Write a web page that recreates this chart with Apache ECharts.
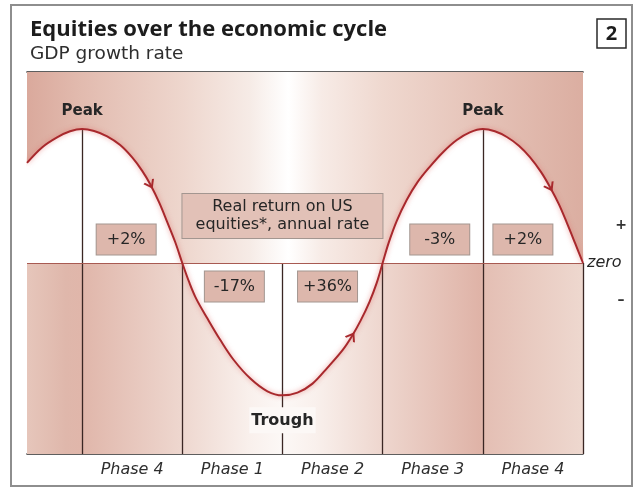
<!DOCTYPE html>
<html>
<head>
<meta charset="utf-8">
<title>Equities over the economic cycle</title>
<script src="https://cdn.jsdelivr.net/npm/echarts@6/dist/echarts.min.js"></script>
<style>
    html, body { margin: 0; padding: 0; background: #fff; }
    #chart { width: 638px; height: 497px; }
</style>
</head>
<body>
<div id="chart"></div>
<script>
// GDP growth curve (x in phases, 0 = first peak; y in arbitrary units)
var gdpX = [-0.55, -0.4, -0.25, -0.12, 0, 0.12, 0.25, 0.38, 0.5, 0.6, 0.68, 0.77, 0.85, 0.93, 1.0,
            1.07, 1.14, 1.25, 1.38, 1.51, 1.68, 1.85, 2.0, 2.15, 2.3, 2.45, 2.6, 2.69, 2.78, 2.87, 2.94, 3.0,
            3.06, 3.14, 3.24, 3.35, 3.47, 3.6, 3.74, 3.87, 4.0, 4.12, 4.24, 4.36, 4.47, 4.58, 4.67, 4.76, 4.84, 4.92, 5.0];
var gdpY = [2.99, 3.45, 3.75, 3.93, 4.0, 3.94, 3.78, 3.52, 3.15, 2.75, 2.35, 1.8, 1.22, 0.62, 0,
            -0.58, -1.07, -1.65, -2.3, -2.88, -3.45, -3.83, -3.95, -3.87, -3.6, -3.12, -2.6, -2.2, -1.72, -1.15, -0.6, 0,
            0.6, 1.25, 1.88, 2.42, 2.87, 3.3, 3.67, 3.9, 4.0, 3.93, 3.76, 3.5, 3.16, 2.72, 2.27, 1.75, 1.19, 0.6, 0];

// Phase boundaries and names along the bottom
var phaseBounds = [0, 1, 2, 3, 4, 5];
var phaseNames = ['Phase 4', 'Phase 1', 'Phase 2', 'Phase 3', 'Phase 4'];

// Real return boxes
var returnLabels = ['+2%', '-17%', '+36%', '-3%', '+2%'];
var returnX = [0.44, 1.52, 2.45, 3.57, 4.4];
var returnY = [0.7, -0.7, -0.7, 0.7, 0.7];

var noteLines = ['Real return on US', 'equities*, annual rate'];
var noteX = 2.0;
var noteY = 1.4;

// Peak / trough markers
var eventLabels = ['Peak', 'Trough', 'Peak'];
var eventX = [0, 2, 4];

// Direction arrows on the curve
var arrowX = [0.68, 2.69, 4.67];
var arrowY = [2.35, -2.2, 2.27];
var arrowRot = [-152, -32, -151];

var xMin = -0.55, xMax = 5;
var yMin = -5.7, yMax = 5.7;

var HEAD_FONT = '"Open Sans", "DejaVu Sans", sans-serif';
var FONT = '"DejaVu Sans", sans-serif';

function gdpAt(x) {
    for (var i = 0; i < gdpX.length; i++) {
        if (gdpX[i] === x) return gdpY[i];
    }
    return 0;
}

var gdpData = gdpX.map(function (x, i) { return [x, gdpY[i]]; });

var chart = echarts.init(document.getElementById('chart'), null, { renderer: 'canvas' });

// Background bands (gradients run left to right)
var upperBand = new echarts.graphic.LinearGradient(0, 0, 1, 0, [
    { offset: 0, color: '#daa99c' },
    { offset: 0.099, color: '#e2bbaf' },
    { offset: 0.279, color: '#eed6cd' },
    { offset: 0.40, color: '#f6ebe6' },
    { offset: 0.47, color: '#ffffff' },
    { offset: 0.53, color: '#f7ebe6' },
    { offset: 0.64, color: '#efd8cf' },
    { offset: 0.82, color: '#e5c2b7' },
    { offset: 1, color: '#dbaea1' }
]);
var lowerBand = new echarts.graphic.LinearGradient(0, 0, 1, 0, [
    { offset: 0, color: '#e6c6bb' },
    { offset: 0.07, color: '#dfb7ab' },
    { offset: 0.099, color: '#e0b6aa' },
    { offset: 0.279, color: '#eed7cf' },
    { offset: 0.40, color: '#f9f0ec' },
    { offset: 0.459, color: '#fcf8f6' },
    { offset: 0.52, color: '#f9f0ec' },
    { offset: 0.64, color: '#eed6ce' },
    { offset: 0.815, color: '#dfb3a7' },
    { offset: 0.825, color: '#e4bfb4' },
    { offset: 1, color: '#eed8cf' }
]);

var verticals = phaseBounds.map(function (b) {
    return [{ coord: [b, Math.max(0, gdpAt(b))] }, { coord: [b, yMin] }];
});

var boxStyle = {
    color: '#262626',
    fontFamily: FONT,
    fontSize: 16,
    backgroundColor: '#ddb7ac',
    borderColor: '#a39690',
    borderWidth: 1
};

var option = {
    animation: false,
    backgroundColor: '#ffffff',
    title: {
        text: 'Equities over the economic cycle',
        subtext: 'GDP growth rate',
        left: 25,
        top: 14,
        itemGap: 4,
        textStyle: { fontFamily: HEAD_FONT, fontSize: 22, fontWeight: 'bold', color: '#1c1c1c' },
        subtextStyle: { fontFamily: FONT, fontSize: 18.5, color: '#2e2e2e' }
    },
    grid: { left: 27, right: 55, top: 72, bottom: 43 },
    xAxis: [
        {
            type: 'value',
            min: xMin,
            max: xMax,
            position: 'bottom',
            axisLine: { onZero: false, lineStyle: { color: '#2a2a2a', width: 1.6 } },
            axisTick: { show: false },
            splitLine: { show: false },
            axisLabel: {
                customValues: phaseNames.map(function (n, i) {
                    return (phaseBounds[i] + phaseBounds[i + 1]) / 2;
                }),
                formatter: function (v) {
                    return phaseNames[Math.floor(v)] || '';
                },
                margin: 8,
                fontFamily: FONT,
                fontStyle: 'italic',
                fontSize: 16,
                color: '#2e2e2e'
            }
        },
        {
            type: 'value',
            min: xMin,
            max: xMax,
            position: 'top',
            axisLine: { onZero: false, lineStyle: { color: '#2a2a2a', width: 1.6 } },
            axisTick: { show: false },
            axisLabel: { show: false },
            splitLine: { show: false }
        }
    ],
    yAxis: {
        type: 'value',
        min: yMin,
        max: yMax,
        show: false
    },
    graphic: [
        {
            type: 'rect',
            shape: { x: 11, y: 5, width: 621, height: 481 },
            style: { fill: 'none', stroke: '#8e8e8e', lineWidth: 2 },
            silent: true
        },
        {
            type: 'rect',
            shape: { x: 597, y: 19, width: 29, height: 29 },
            style: { fill: '#ffffff', stroke: '#2a2a2a', lineWidth: 1.5 }
        },
        {
            type: 'text',
            x: 611.5, y: 34,
            style: {
                text: '2', fill: '#1c1c1c', font: 'bold 20px ' + HEAD_FONT,
                textAlign: 'center', textVerticalAlign: 'middle'
            }
        },
        {
            type: 'text',
            x: 621, y: 225,
            style: {
                text: '+', fill: '#333333', font: 'bold 14px ' + FONT,
                textAlign: 'center', textVerticalAlign: 'middle'
            }
        },
        {
            type: 'text',
            x: 621, y: 300,
            style: {
                text: '\u2013', fill: '#333333', font: 'bold 14px ' + FONT,
                textAlign: 'center', textVerticalAlign: 'middle'
            }
        }
    ],
    series: [
        // White fill between the curve and zero, with the coloured bands beneath
        {
            name: 'fill',
            type: 'line',
            data: gdpData,
            smooth: 0.35,
            symbol: 'none',
            z: 2,
            lineStyle: { width: 0 },
            areaStyle: { color: '#ffffff', opacity: 1, origin: 'auto' },
            silent: true,
            markArea: {
                silent: true,
                z: 1,
                data: [
                    [{ coord: [xMin, 0], itemStyle: { color: upperBand } }, { coord: [xMax, yMax] }],
                    [{ coord: [xMin, yMin], itemStyle: { color: lowerBand } }, { coord: [xMax, 0] }]
                ]
            },
            markLine: {
                silent: true,
                z: 4,
                symbol: 'none',
                label: { show: false },
                lineStyle: { color: '#3a2623', width: 1.3, type: 'solid' },
                data: verticals
            }
        },
        // Zero line
        {
            name: 'zero',
            type: 'line',
            data: [],
            markLine: {
                silent: true,
                z: 4,
                symbol: 'none',
                lineStyle: { color: '#a85a52', width: 1.2, type: 'solid' },
                label: {
                    show: true,
                    position: 'end',
                    formatter: 'zero',
                    distance: 4,
                    fontFamily: FONT,
                    fontStyle: 'italic',
                    fontSize: 16,
                    color: '#262626'
                },
                data: [[{ coord: [xMin, 0] }, { coord: [xMax, 0] }]]
            }
        },
        // GDP curve
        {
            name: 'GDP growth rate',
            type: 'line',
            data: gdpData,
            smooth: 0.35,
            symbol: 'none',
            z: 6,
            lineStyle: {
                color: '#a8292d',
                width: 2,
                shadowColor: 'rgba(225, 110, 105, 0.75)',
                shadowBlur: 5
            }
        },
        // Arrows
        {
            name: 'arrows',
            type: 'scatter',
            z: 7,
            symbol: 'path://M0,10 L5,0 L10,10',
            symbolSize: [10, 7],
            itemStyle: { color: 'none', borderColor: '#a8292d', borderWidth: 1.8, opacity: 1 },
            data: arrowX.map(function (x, i) {
                return { value: [x, arrowY[i]], symbolRotate: arrowRot[i] };
            })
        },
        // Real-return boxes
        {
            name: 'returns',
            type: 'scatter',
            z: 8,
            symbolSize: 0,
            itemStyle: { opacity: 1 },
            label: {
                show: true,
                position: 'inside',
                formatter: function (p) { return returnLabels[p.dataIndex]; },
                width: 59,
                lineHeight: 18,
                padding: [6, 0],
                color: boxStyle.color,
                fontFamily: boxStyle.fontFamily,
                fontSize: boxStyle.fontSize,
                backgroundColor: boxStyle.backgroundColor,
                borderColor: boxStyle.borderColor,
                borderWidth: boxStyle.borderWidth,
                align: 'center',
                verticalAlign: 'middle'
            },
            data: returnX.map(function (x, i) { return [x, returnY[i]]; })
        },
        // Note box
        {
            name: 'note',
            type: 'scatter',
            z: 8,
            symbolSize: 0,
            itemStyle: { opacity: 1 },
            label: {
                show: true,
                position: 'inside',
                formatter: noteLines.join('\n'),
                width: 200,
                lineHeight: 18,
                padding: [4, 0],
                color: boxStyle.color,
                fontFamily: boxStyle.fontFamily,
                fontSize: boxStyle.fontSize,
                backgroundColor: '#e2c1b7',
                borderColor: boxStyle.borderColor,
                borderWidth: boxStyle.borderWidth,
                align: 'center',
                verticalAlign: 'middle'
            },
            data: [[noteX, noteY]]
        },
        // Peak / trough labels
        {
            name: 'events',
            type: 'scatter',
            z: 8,
            symbolSize: 0,
            itemStyle: { opacity: 1 },
            data: eventX.map(function (x, i) {
                var y = gdpAt(x);
                var isTrough = y < 0;
                return {
                    value: [x, y],
                    label: {
                        show: true,
                        formatter: eventLabels[i],
                        position: isTrough ? 'bottom' : 'top',
                        distance: isTrough ? 12 : 10,
                        padding: isTrough ? [5, 2] : 0,
                        backgroundColor: isTrough ? '#fcf8f6' : 'transparent',
                        fontFamily: FONT,
                        fontWeight: 'bold',
                        fontSize: isTrough ? 16 : 15,
                        color: '#262626'
                    }
                };
            })
        }
    ]
};

chart.setOption(option);

window.addEventListener('resize', function () {
    chart.resize();
});
</script>
</body>
</html>
